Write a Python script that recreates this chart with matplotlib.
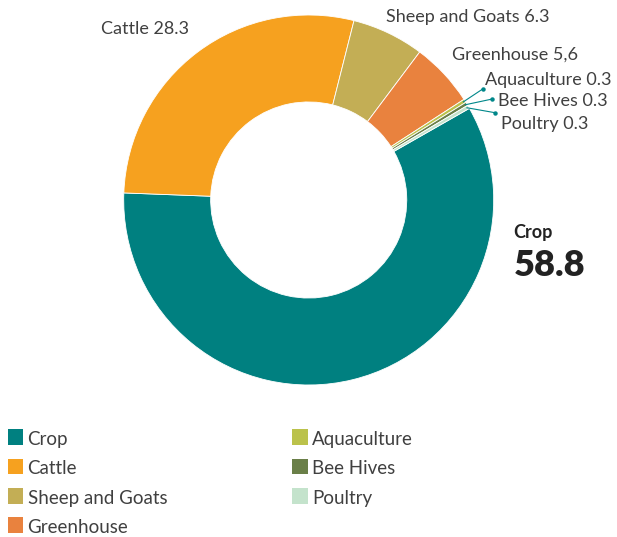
import matplotlib
matplotlib.use('Agg')
import matplotlib.pyplot as plt
from matplotlib.patches import Rectangle
import numpy as np

# Share of farm output by sector (%)
sectors = ['Crop', 'Cattle', 'Sheep and Goats', 'Greenhouse', 'Aquaculture', 'Bee Hives', 'Poultry']
shares = [58.8, 28.3, 6.3, 5.6, 0.3, 0.3, 0.3]
share_text = ['58.8', '28.3', '6.3', '5,6', '0.3', '0.3', '0.3']
colors = ['#008080', '#F6A11F', '#C3AE55', '#E9823E', '#BBC24B', '#6A7F48', '#C4E3CC']

plt.rcParams['font.family'] = ['Lato', 'DejaVu Sans']
TEXT = '#404040'

W, H = 617, 537
fig = plt.figure(figsize=(W / 100, H / 100), dpi=100)

# donut centre and outer radius in pixels
CX, CY, R = 308.7, 200.0, 185.0
ax = fig.add_axes([(CX - R) / W, 1 - (CY + R) / H, 2 * R / W, 2 * R / H])

wedges, _ = ax.pie(shares, colors=colors, startangle=29.7, counterclock=False, radius=1.0,
                   wedgeprops=dict(width=0.47, edgecolor='white', linewidth=0.6))
ax.set_xlim(-1, 1)
ax.set_ylim(-1, 1)
ax.axis('off')


def to_data(px, py):
    return (px - CX) / R, (CY - py) / R


# outside labels: x, baseline y (pixels), alignment
label_pos = {
    'Cattle': (189, 34.0, 'right'),
    'Sheep and Goats': (386, 21.7, 'left'),
    'Greenhouse': (452, 59.3, 'left'),
    'Aquaculture': (485, 85.0, 'left'),
    'Bee Hives': (498, 105.7, 'left'),
    'Poultry': (501, 129.0, 'left'),
}
# leader line ends for the thin slices
leader_end = {
    'Aquaculture': (482.7, 89.0),
    'Bee Hives': (492.3, 99.0),
    'Poultry': (495.0, 112.7),
}

for wedge, name, txt in zip(wedges, sectors, share_text):
    if name in label_pos:
        px, py, ha = label_pos[name]
        x, y = to_data(px, py)
        ax.text(x, y, f'{name} {txt}', ha=ha, va='baseline', fontsize=13, color=TEXT)
    if name in leader_end:
        mid = np.deg2rad((wedge.theta1 + wedge.theta2) / 2)
        x0, y0 = np.cos(mid) * 0.99, np.sin(mid) * 0.99
        x1, y1 = to_data(*leader_end[name])
        ax.plot([x0, x1], [y0, y1], color='#00878A', linewidth=0.8, clip_on=False)
        ax.plot([x1], [y1], 'o', color='#00878A', markersize=2.2, clip_on=False)

# callout for the largest sector
x, y = to_data(513, 238)
ax.text(x, y, sectors[0], ha='left', va='baseline', fontsize=13, fontweight='bold', color='#222222')
x, y = to_data(514, 276)
ax.text(x, y, share_text[0], ha='left', va='baseline', fontsize=26, fontweight='heavy', color='#222222')

# legend in two columns, four rows in the first
row_y = [437.0, 466.5, 496.0, 525.0]
col_x = [7.5, 292.3]
sq = 15.5
for i, (name, c) in enumerate(zip(sectors, colors)):
    col, row = divmod(i, 4)
    px, py = col_x[col], row_y[row]
    fig.add_artist(Rectangle((px / W, 1 - (py + sq / 2) / H), sq / W, sq / H,
                             transform=fig.transFigure, facecolor=c, edgecolor='none'))
    fig.text((px + sq + 4.5) / W, 1 - (py + 8) / H, name, ha='left', va='baseline',
             fontsize=13.5, color=TEXT)

fig.savefig('out.png', dpi=100, facecolor='white')
